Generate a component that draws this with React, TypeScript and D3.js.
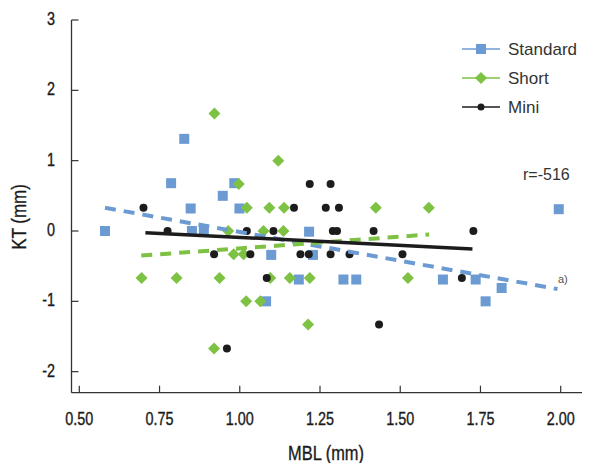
import React from "react";
import * as d3 from "d3";

const W = 604;
const H = 463;

// Standard implants: MBL (mm), KT (mm)
const standardMBL = [0.58, 0.827, 0.786, 0.983, 0.947, 0.847, 0.999, 0.851, 0.888, 1.216, 1.098, 1.228, 1.184, 1.323, 1.363, 1.082, 1.633, 1.735, 1.816, 1.766, 1.994];
const standardKT = [0, 1.31, 0.68, 0.68, 0.5, 0.32, 0.32, 0, 0, -0.01, -0.34, -0.34, -0.69, -0.69, -0.69, -1.0, -0.69, -0.69, -0.81, -1.0, 0.31];

const shortMBL = [0.921, 1.12, 0.997, 1.022, 1.092, 1.138, 1.424, 1.589, 0.964, 1.074, 1.136, 0.981, 1.012, 0.694, 0.803, 0.937, 1.095, 1.156, 1.218, 1.524, 1.02, 1.064, 1.213, 0.92];
const shortKT = [1.67, 1.0, 0.67, 0.33, 0.33, 0.33, 0.33, 0.33, 0, 0, 0, -0.33, -0.33, -0.67, -0.67, -0.67, -0.67, -0.67, -0.67, -0.67, -1.0, -1.0, -1.33, -1.67];

const miniMBL = [0.7, 0.775, 1.022, 0.92, 1.033, 1.218, 1.283, 1.169, 1.268, 1.309, 1.105, 1.29, 1.303, 1.417, 1.728, 1.189, 1.215, 1.283, 1.342, 1.507, 1.692, 1.084, 1.434, 0.96];
const miniKT = [0.33, 0, 0, -0.33, -0.33, 0.67, 0.67, 0.33, 0.33, 0.33, 0, 0, 0, 0, 0, -0.33, -0.33, -0.33, -0.33, -0.33, -0.67, -0.67, -1.33, -1.67];

// Trend lines (start / end)
const trendStandardX = [0.58, 1.99];
const trendStandardY = [0.33, -0.825];
const trendShortX = [0.693, 1.59];
const trendShortY = [-0.35, -0.05];
const trendMiniX = [0.706, 1.725];
const trendMiniY = [-0.024, -0.256];

const xTicks = [0.5, 0.75, 1.0, 1.25, 1.5, 1.75, 2.0];
const yTicks = [-2, -1, 0, 1, 2, 3];

const seriesNames = ["Standard", "Short", "Mini"];

const BLUE = "#6b9bd2";
const GREEN = "#7dc243";
const BLACK = "#1c1c1c";

const narrowFont = "'Liberation Sans', Arial, sans-serif";
const legendFont = "'Liberation Sans', Arial, sans-serif";

function NText(props: {
  x: number;
  y: number;
  anchor?: string;
  size: number;
  sx?: number;
  rotate?: number;
  children: React.ReactNode;
}) {
  const { x, y, anchor = "start", size, sx = 0.8, rotate = 0, children } = props;
  return (
    <g transform={`translate(${x},${y}) rotate(${rotate}) scale(${sx},1)`}>
      <text
        x={0}
        y={0}
        textAnchor={anchor}
        fontFamily={narrowFont}
        fontSize={size}
        fill="#1a1a1a"
        stroke="#1a1a1a"
        strokeWidth={0.35}
      >
        {children}
      </text>
    </g>
  );
}

export default function App() {
  const x = d3.scaleLinear().domain([0.5, 2.0]).range([79.3, 560.7]);
  const y = d3.scaleLinear().domain([0, 3]).range([231, 20]);
  const xMin = x.invert(71.5);
  const xMax = x.invert(582);
  const yMin = y.invert(392.7);

  const pts = (xs: number[], ys: number[]) => xs.map((v, i) => [v, ys[i]] as [number, number]);
  const line = d3.line<[number, number]>().x((d) => x(d[0])).y((d) => y(d[1]));

  const diamond = (cx: number, cy: number, r: number) =>
    `M${cx},${cy - r}L${cx + r},${cy}L${cx},${cy + r}L${cx - r},${cy}Z`;

  const legendY = [49, 78, 107];
  const legendColors = [BLUE, GREEN, BLACK];

  return (
    <svg width={W} height={H} style={{ position: "absolute", left: 0, top: 0, background: "#fff" }}>
      {/* axes */}
      <line x1={x(xMin)} x2={x(xMax)} y1={y(yMin)} y2={y(yMin)} stroke="#333" strokeWidth={1.3} />
      <line x1={x(xMin)} x2={x(xMin)} y1={y(yMin)} y2={y(3)} stroke="#333" strokeWidth={1.3} />
      {xTicks.map((t) => (
        <g key={"xt" + t}>
          <line x1={x(t)} x2={x(t)} y1={y(yMin)} y2={y(yMin) - 7} stroke="#333" strokeWidth={1.2} />
          <NText x={x(t)} y={425} anchor="middle" size={18}>
            {d3.format(".2f")(t)}
          </NText>
        </g>
      ))}
      {yTicks.map((t) => (
        <g key={"yt" + t}>
          <line x1={x(xMin)} x2={x(xMin) + 7} y1={y(t)} y2={y(t)} stroke="#333" strokeWidth={1.2} />
          <NText x={55} y={y(t) + 5} anchor="end" size={18}>
            {t}
          </NText>
        </g>
      ))}
      <NText x={326} y={460} anchor="middle" size={20} sx={0.82}>
        MBL (mm)
      </NText>
      <NText x={26} y={217} anchor="middle" size={20} sx={0.85} rotate={-90}>
        KT (mm)
      </NText>

      {/* points */}
      {pts(standardMBL, standardKT).map((d, i) => (
        <rect key={"s" + i} x={x(d[0]) - 5} y={y(d[1]) - 5} width={10} height={10} fill={BLUE} />
      ))}
      {pts(shortMBL, shortKT).map((d, i) => (
        <path key={"h" + i} d={diamond(x(d[0]), y(d[1]), 6)} fill={GREEN} />
      ))}
      {pts(miniMBL, miniKT).map((d, i) => (
        <circle key={"m" + i} cx={x(d[0])} cy={y(d[1])} r={4} fill={BLACK} />
      ))}

      {/* trend lines */}
      <path d={line(pts(trendStandardX, trendStandardY)) || ""} fill="none" stroke={BLUE} strokeWidth={4} strokeDasharray="11 8" />
      <path d={line(pts(trendShortX, trendShortY)) || ""} fill="none" stroke={GREEN} strokeWidth={4} strokeDasharray="11 8" />
      <path d={line(pts(trendMiniX, trendMiniY)) || ""} fill="none" stroke={BLACK} strokeWidth={3.5} />

      {/* annotations */}
      <text x={523} y={180} fontFamily={legendFont} fontSize={16} fill="#333">r=-516</text>
      <text x={558} y={283} fontFamily={legendFont} fontSize={11} fill="#555">a)</text>

      {/* legend */}
      {seriesNames.map((n, i) => (
        <g key={n}>
          <line x1={462} x2={500} y1={legendY[i]} y2={legendY[i]} stroke={legendColors[i]} strokeWidth={1.5} />
          {i === 0 && <rect x={476} y={legendY[i] - 5} width={10} height={10} fill={BLUE} />}
          {i === 1 && <path d={diamond(481, legendY[i], 6)} fill={GREEN} />}
          {i === 2 && <circle cx={481} cy={legendY[i]} r={3.5} fill={BLACK} />}
          <text x={508} y={legendY[i] + 6} fontFamily={legendFont} fontSize={17} fill="#333">
            {n}
          </text>
        </g>
      ))}
    </svg>
  );
}
